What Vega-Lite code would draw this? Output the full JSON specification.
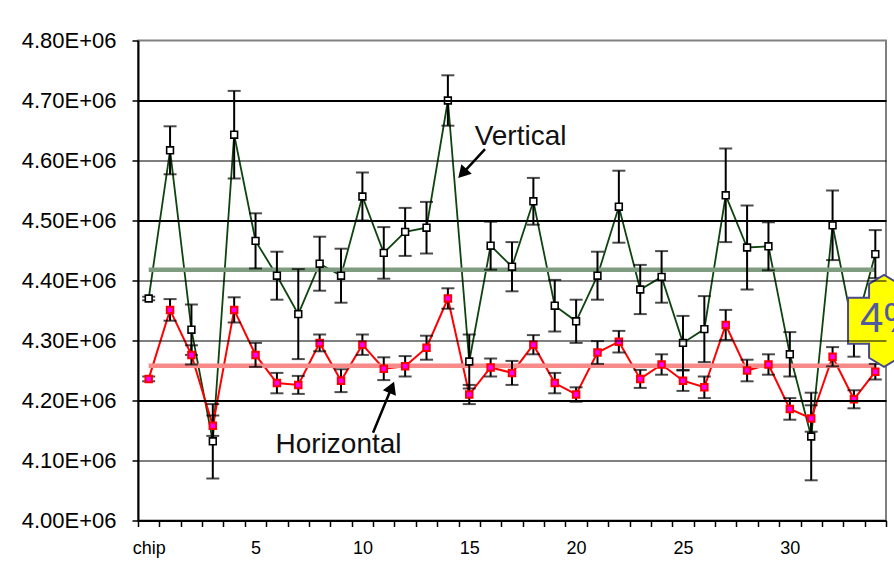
{
  "$schema": "https://vega.github.io/schema/vega-lite/v6.json",
  "autosize": "none",
  "width": 748,
  "height": 480,
  "padding": {"left": 138, "top": 40.5, "right": 8, "bottom": 57.5},
  "background": "white",
  "config": {
    "view": {"stroke": "#808080", "strokeWidth": 2},
    "font": "Liberation Sans",
    "axis": {"labelFont": "Liberation Sans", "labelColor": "black"}
  },
  "datasets": {
    "pts": [
      {"chip": 0, "series": "Vertical", "value": 4370000, "err": 3000},
      {"chip": 1, "series": "Vertical", "value": 4617000, "err": 40000},
      {"chip": 2, "series": "Vertical", "value": 4318000, "err": 42000},
      {"chip": 3, "series": "Vertical", "value": 4132000, "err": 62000},
      {"chip": 4, "series": "Vertical", "value": 4643000, "err": 73000},
      {"chip": 5, "series": "Vertical", "value": 4466000, "err": 46000},
      {"chip": 6, "series": "Vertical", "value": 4408000, "err": 40000},
      {"chip": 7, "series": "Vertical", "value": 4344000, "err": 75000},
      {"chip": 8, "series": "Vertical", "value": 4428000, "err": 45000},
      {"chip": 9, "series": "Vertical", "value": 4408000, "err": 45000},
      {"chip": 10, "series": "Vertical", "value": 4540000, "err": 40000},
      {"chip": 11, "series": "Vertical", "value": 4446000, "err": 43000},
      {"chip": 12, "series": "Vertical", "value": 4481000, "err": 40000},
      {"chip": 13, "series": "Vertical", "value": 4488000, "err": 43000},
      {"chip": 14, "series": "Vertical", "value": 4700000, "err": 42000},
      {"chip": 15, "series": "Vertical", "value": 4265000, "err": 45000},
      {"chip": 16, "series": "Vertical", "value": 4458000, "err": 40000},
      {"chip": 17, "series": "Vertical", "value": 4423000, "err": 41000},
      {"chip": 18, "series": "Vertical", "value": 4532000, "err": 39000},
      {"chip": 19, "series": "Vertical", "value": 4358000, "err": 43000},
      {"chip": 20, "series": "Vertical", "value": 4332000, "err": 36000},
      {"chip": 21, "series": "Vertical", "value": 4408000, "err": 40000},
      {"chip": 22, "series": "Vertical", "value": 4523000, "err": 60000},
      {"chip": 23, "series": "Vertical", "value": 4385000, "err": 41000},
      {"chip": 24, "series": "Vertical", "value": 4406000, "err": 43000},
      {"chip": 25, "series": "Vertical", "value": 4296000, "err": 45000},
      {"chip": 26, "series": "Vertical", "value": 4319000, "err": 55000},
      {"chip": 27, "series": "Vertical", "value": 4542000, "err": 78000},
      {"chip": 28, "series": "Vertical", "value": 4455000, "err": 70000},
      {"chip": 29, "series": "Vertical", "value": 4457000, "err": 40000},
      {"chip": 30, "series": "Vertical", "value": 4277000, "err": 37000},
      {"chip": 31, "series": "Vertical", "value": 4140000, "err": 73000},
      {"chip": 32, "series": "Vertical", "value": 4492000, "err": 58000},
      {"chip": 33, "series": "Vertical", "value": 4313000, "err": 40000},
      {"chip": 34, "series": "Vertical", "value": 4444000, "err": 40000},
      {"chip": 0, "series": "Horizontal", "value": 4236000, "err": 4000},
      {"chip": 1, "series": "Horizontal", "value": 4351000, "err": 18000},
      {"chip": 2, "series": "Horizontal", "value": 4276000, "err": 16000},
      {"chip": 3, "series": "Horizontal", "value": 4158000, "err": 17000},
      {"chip": 4, "series": "Horizontal", "value": 4351000, "err": 21000},
      {"chip": 5, "series": "Horizontal", "value": 4276000, "err": 20000},
      {"chip": 6, "series": "Horizontal", "value": 4229000, "err": 17000},
      {"chip": 7, "series": "Horizontal", "value": 4226000, "err": 15000},
      {"chip": 8, "series": "Horizontal", "value": 4296000, "err": 14000},
      {"chip": 9, "series": "Horizontal", "value": 4233000, "err": 19000},
      {"chip": 10, "series": "Horizontal", "value": 4293000, "err": 17000},
      {"chip": 11, "series": "Horizontal", "value": 4253000, "err": 19000},
      {"chip": 12, "series": "Horizontal", "value": 4257000, "err": 17000},
      {"chip": 13, "series": "Horizontal", "value": 4288000, "err": 20000},
      {"chip": 14, "series": "Horizontal", "value": 4370000, "err": 17000},
      {"chip": 15, "series": "Horizontal", "value": 4210000, "err": 16000},
      {"chip": 16, "series": "Horizontal", "value": 4255000, "err": 15000},
      {"chip": 17, "series": "Horizontal", "value": 4246000, "err": 20000},
      {"chip": 18, "series": "Horizontal", "value": 4293000, "err": 16000},
      {"chip": 19, "series": "Horizontal", "value": 4229000, "err": 17000},
      {"chip": 20, "series": "Horizontal", "value": 4210000, "err": 12000},
      {"chip": 21, "series": "Horizontal", "value": 4280000, "err": 19000},
      {"chip": 22, "series": "Horizontal", "value": 4298000, "err": 18000},
      {"chip": 23, "series": "Horizontal", "value": 4236000, "err": 15000},
      {"chip": 24, "series": "Horizontal", "value": 4260000, "err": 17000},
      {"chip": 25, "series": "Horizontal", "value": 4233000, "err": 17000},
      {"chip": 26, "series": "Horizontal", "value": 4222000, "err": 18000},
      {"chip": 27, "series": "Horizontal", "value": 4326000, "err": 25000},
      {"chip": 28, "series": "Horizontal", "value": 4250000, "err": 18000},
      {"chip": 29, "series": "Horizontal", "value": 4260000, "err": 17000},
      {"chip": 30, "series": "Horizontal", "value": 4186000, "err": 18000},
      {"chip": 31, "series": "Horizontal", "value": 4170000, "err": 22000},
      {"chip": 32, "series": "Horizontal", "value": 4273000, "err": 16000},
      {"chip": 33, "series": "Horizontal", "value": 4202000, "err": 15000},
      {"chip": 34, "series": "Horizontal", "value": 4248000, "err": 13000}
    ],
    "means": [
      {"series": "Vertical", "mean": 4418000, "from": 0, "to": 34},
      {"series": "Horizontal", "mean": 4258000, "from": 0, "to": 34}
    ]
  },
  "resolve": {"axis": {"x": "independent", "y": "independent"}},
  "layer": [
    {
      "data": {"name": "pts"},
      "transform": [{"filter": "datum.series == 'Vertical'"}],
      "mark": {"type": "line", "color": "#0e440e", "strokeWidth": 1.8},
      "encoding": {
        "x": {"field": "chip", "type": "quantitative",
              "scale": {"domain": [-0.5, 34.5], "nice": false, "zero": false},
              "axis": {"values": [-0.5,0.5,1.5,2.5,3.5,4.5,5.5,6.5,7.5,8.5,9.5,10.5,11.5,12.5,13.5,14.5,15.5,16.5,17.5,18.5,19.5,20.5,21.5,22.5,23.5,24.5,25.5,26.5,27.5,28.5,29.5,30.5,31.5,32.5,33.5,34.5],
                       "labelExpr": "datum.value == -0.5 ? 'chip' : ((datum.value + 0.5) % 5 == 0 && datum.value < 34 ? '' + (datum.value + 0.5) : '')",
                       "labelOffset": 10.7, "labelFlush": false, "labelOverlap": false, "labelBound": false,
                       "labelFontSize": 18, "labelPadding": 13, "zindex": 1,
                       "grid": false, "tickSize": 6, "tickColor": "black", "tickWidth": 1.5,
                       "domainColor": "black", "domainWidth": 2, "title": null}},
        "y": {"field": "value", "type": "quantitative",
              "scale": {"domain": [4000000, 4800000], "nice": false, "zero": false},
              "axis": {"values": [4000000,4100000,4200000,4300000,4400000,4500000,4600000,4700000,4800000],
                       "labelExpr": "datum.value == 4000000 ? '4.00E+06' : '4.' + ((datum.value - 4000000) / 10000) + 'E+06'",
                       "tickSize": 6, "tickColor": "black", "tickWidth": 1.5,
                       "domainColor": "black", "domainWidth": 2, "zindex": 1,
                       "labelFontSize": 22, "labelPadding": 16, "labelFlush": false, "labelOverlap": false, "title": null,
                       "grid": true,
                       "gridColor": {"condition": {"test": "datum.value <= 4000000 || datum.value >= 4800000", "value": "transparent"}, "value": "black"},
                       "gridWidth": {"condition": {"test": "datum.value == 4700000 || datum.value == 4500000 || datum.value == 4200000", "value": 2}, "value": 1}}}
      }
    },
    {
      "data": {"name": "pts"},
      "transform": [{"filter": "datum.series == 'Horizontal'"}],
      "mark": {"type": "line", "color": "#ff0000", "strokeWidth": 2},
      "encoding": {
        "x": {"field": "chip", "type": "quantitative", "scale": {"domain": [-0.5, 34.5], "nice": false, "zero": false}, "axis": null},
        "y": {"field": "value", "type": "quantitative", "scale": {"domain": [4000000, 4800000], "nice": false, "zero": false}, "axis": null}
      }
    },
    {
      "data": {"name": "means"},
      "transform": [{"filter": "datum.series == 'Vertical'"}],
      "mark": {"type": "rule", "color": "#809c80", "strokeWidth": 4.5},
      "encoding": {
        "x": {"field": "from", "type": "quantitative", "scale": {"domain": [-0.5, 34.5], "nice": false, "zero": false}, "axis": null},
        "x2": {"field": "to"},
        "y": {"field": "mean", "type": "quantitative", "scale": {"domain": [4000000, 4800000], "nice": false, "zero": false}, "axis": null}
      }
    },
    {
      "data": {"name": "means"},
      "transform": [{"filter": "datum.series == 'Horizontal'"}],
      "mark": {"type": "rule", "color": "#f88a8a", "strokeWidth": 4.5},
      "encoding": {
        "x": {"field": "from", "type": "quantitative", "scale": {"domain": [-0.5, 34.5], "nice": false, "zero": false}, "axis": null},
        "x2": {"field": "to"},
        "y": {"field": "mean", "type": "quantitative", "scale": {"domain": [4000000, 4800000], "nice": false, "zero": false}, "axis": null}
      }
    },
    {
      "data": {"name": "pts"},
      "mark": {"type": "errorbar", "ticks": {"size": 13, "thickness": 2, "color": "black"}, "rule": {"strokeWidth": 2, "color": "black"}},
      "encoding": {
        "x": {"field": "chip", "type": "quantitative", "scale": {"domain": [-0.5, 34.5], "nice": false, "zero": false}, "axis": null},
        "y": {"field": "value", "type": "quantitative", "scale": {"domain": [4000000, 4800000], "nice": false, "zero": false}, "axis": null},
        "yError": {"field": "err"}
      }
    },
    {
      "data": {"name": "pts"},
      "transform": [{"filter": "datum.series == 'Vertical'"}],
      "mark": {"type": "point", "shape": "square", "filled": true, "fill": "white", "stroke": "black", "strokeWidth": 1.6, "size": 46, "opacity": 1},
      "encoding": {
        "x": {"field": "chip", "type": "quantitative", "scale": {"domain": [-0.5, 34.5], "nice": false, "zero": false}, "axis": null},
        "y": {"field": "value", "type": "quantitative", "scale": {"domain": [4000000, 4800000], "nice": false, "zero": false}, "axis": null}
      }
    },
    {
      "data": {"name": "pts"},
      "transform": [{"filter": "datum.series == 'Horizontal'"}],
      "mark": {"type": "point", "shape": "square", "filled": true, "fill": "#ff00ff", "stroke": "#ff0000", "strokeWidth": 2, "size": 42, "opacity": 1},
      "encoding": {
        "x": {"field": "chip", "type": "quantitative", "scale": {"domain": [-0.5, 34.5], "nice": false, "zero": false}, "axis": null},
        "y": {"field": "value", "type": "quantitative", "scale": {"domain": [4000000, 4800000], "nice": false, "zero": false}, "axis": null}
      }
    },
    {
      "data": {"values": [{"x": 15.738, "y": 4619000, "x2": 14.68, "y2": 4578200}]},
      "mark": {"type": "rule", "color": "black", "strokeWidth": 2.5},
      "encoding": {
        "x": {"field": "x", "type": "quantitative", "scale": {"domain": [-0.5, 34.5], "nice": false, "zero": false}, "axis": null},
        "y": {"field": "y", "type": "quantitative", "scale": {"domain": [4000000, 4800000], "nice": false, "zero": false}, "axis": null},
        "x2": {"field": "x2"},
        "y2": {"field": "y2"}
      }
    },
    {
      "data": {"values": [{"x": 14.68, "y": 4578200}]},
      "mark": {"type": "point", "shape": "triangle-up", "filled": true, "color": "black", "size": 200, "angle": 222.6, "opacity": 1},
      "encoding": {
        "x": {"field": "x", "type": "quantitative", "scale": {"domain": [-0.5, 34.5], "nice": false, "zero": false}, "axis": null},
        "y": {"field": "y", "type": "quantitative", "scale": {"domain": [4000000, 4800000], "nice": false, "zero": false}, "axis": null}
      }
    },
    {
      "data": {"values": [{"x": 10.497, "y": 4146200, "x2": 11.372, "y2": 4222000}]},
      "mark": {"type": "rule", "color": "black", "strokeWidth": 2.5},
      "encoding": {
        "x": {"field": "x", "type": "quantitative", "scale": {"domain": [-0.5, 34.5], "nice": false, "zero": false}, "axis": null},
        "y": {"field": "y", "type": "quantitative", "scale": {"domain": [4000000, 4800000], "nice": false, "zero": false}, "axis": null},
        "x2": {"field": "x2"},
        "y2": {"field": "y2"}
      }
    },
    {
      "data": {"values": [{"x": 11.372, "y": 4222000}]},
      "mark": {"type": "point", "shape": "triangle-up", "filled": true, "color": "black", "size": 200, "angle": 22.3, "opacity": 1},
      "encoding": {
        "x": {"field": "x", "type": "quantitative", "scale": {"domain": [-0.5, 34.5], "nice": false, "zero": false}, "axis": null},
        "y": {"field": "y", "type": "quantitative", "scale": {"domain": [4000000, 4800000], "nice": false, "zero": false}, "axis": null}
      }
    },
    {
      "data": {"values": [{"label": "Vertical", "x": 17.4, "y": 4626200}, {"label": "Horizontal", "x": 8.882, "y": 4112300}]},
      "mark": {"type": "text", "font": "Liberation Sans", "fontSize": 28, "color": "#111111", "align": "center", "baseline": "alphabetic"},
      "encoding": {
        "x": {"field": "x", "type": "quantitative", "scale": {"domain": [-0.5, 34.5], "nice": false, "zero": false}, "axis": null},
        "y": {"field": "y", "type": "quantitative", "scale": {"domain": [4000000, 4800000], "nice": false, "zero": false}, "axis": null},
        "text": {"field": "label"}
      }
    },
    {
      "data": {"values": [{"x": 34.409, "y": 4332800}]},
      "mark": {"type": "point", "shape": "M-0.783,-0.5L-0.326,-0.5L-0.326,-0.804L0,-1L0.326,-0.804L0.326,-0.5L0.783,-0.5L0.783,0.5L0.326,0.5L0.326,0.804L0,1L-0.326,0.804L-0.326,0.5L-0.783,0.5Z",
               "filled": true, "fill": "#ffff00", "stroke": "#4a4a8a", "strokeWidth": 2, "size": 8464, "opacity": 1, "fillOpacity": 1, "strokeOpacity": 1},
      "encoding": {
        "x": {"field": "x", "type": "quantitative", "scale": {"domain": [-0.5, 34.5], "nice": false, "zero": false}, "axis": null},
        "y": {"field": "y", "type": "quantitative", "scale": {"domain": [4000000, 4800000], "nice": false, "zero": false}, "axis": null}
      }
    },
    {
      "data": {"values": [{"label": "4%", "x": 33.286, "y": 4315000}]},
      "mark": {"type": "text", "font": "Liberation Sans", "fontSize": 42, "color": "#505aa0", "align": "left", "baseline": "alphabetic"},
      "encoding": {
        "x": {"field": "x", "type": "quantitative", "scale": {"domain": [-0.5, 34.5], "nice": false, "zero": false}, "axis": null},
        "y": {"field": "y", "type": "quantitative", "scale": {"domain": [4000000, 4800000], "nice": false, "zero": false}, "axis": null},
        "text": {"field": "label"}
      }
    }
  ]
}
